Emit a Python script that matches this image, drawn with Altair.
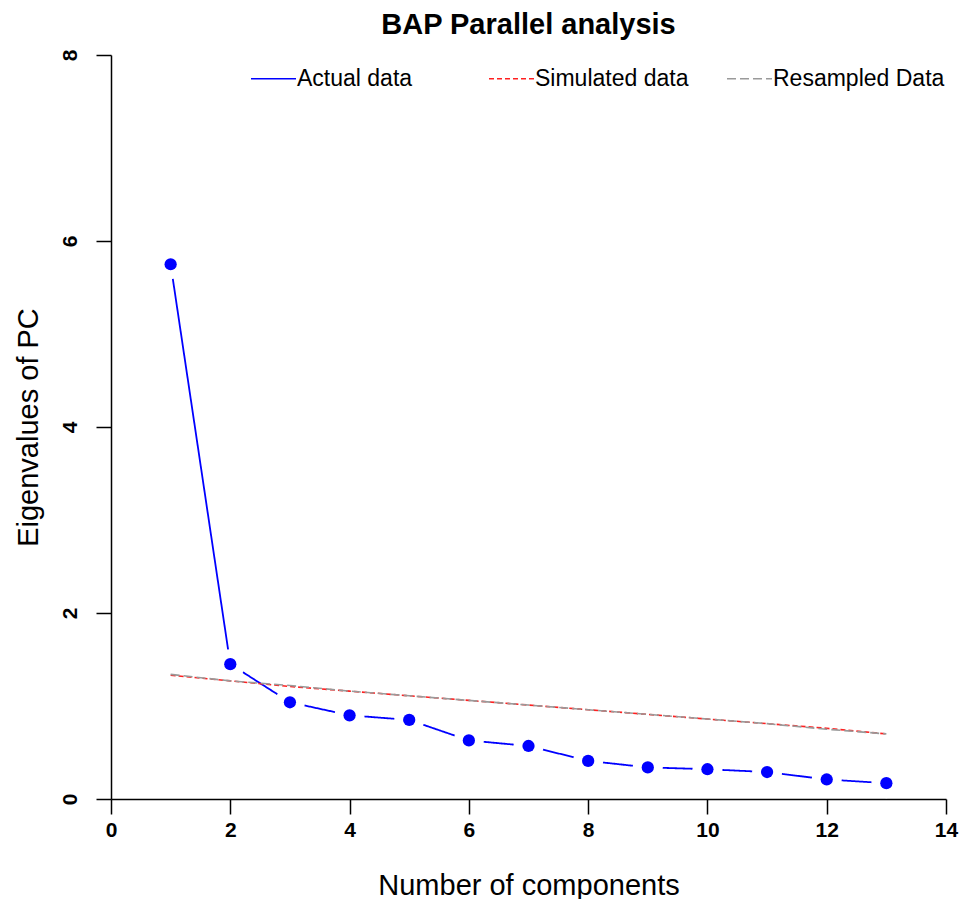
import altair as alt
import pandas as pd

components = [1, 2, 3, 4, 5, 6, 7, 8, 9, 10, 11, 12, 13]
actual = [5.75, 1.45, 1.04, 0.90, 0.85, 0.63, 0.57, 0.41, 0.34, 0.32, 0.29, 0.21, 0.17]
simulated = [1.33, 1.27, 1.21, 1.16, 1.11, 1.06, 1.01, 0.96, 0.91, 0.86, 0.81, 0.76, 0.70]
resampled = [1.34, 1.27, 1.22, 1.16, 1.11, 1.06, 1.01, 0.96, 0.91, 0.86, 0.81, 0.75, 0.70]
series_names = ["Actual data", "Simulated data", "Resampled Data"]
series_colors = ["#0000FF", "#FF2020", "#9A9A9A"]
series_dashes = [[1, 0], [5, 3], [9, 4]]

rows = []
for name, vals in zip(series_names, [actual, simulated, resampled]):
    for c, v in zip(components, vals):
        rows.append({"component": c, "value": v, "series": name})
df = pd.DataFrame(rows)

FONT = "Liberation Sans"

x_enc = alt.X("component:Q",
              scale=alt.Scale(domain=[0, 14], nice=False, zero=False),
              axis=alt.Axis(values=[0, 2, 4, 6, 8, 10, 12, 14], grid=False,
                            title="Number of components", titleFontSize=29,
                            titleFontWeight="normal", titleFont=FONT,
                            titleY=86, titleBaseline="middle",
                            labelFontSize=21, labelFontWeight="bold", labelFont=FONT,
                            labelPadding=5, tickSize=15, tickWidth=1.5, domainWidth=1.5,
                            domainColor="black", tickColor="black", labelColor="black",
                            titleColor="black", labelFlush=False))
y_enc = alt.Y("value:Q",
              scale=alt.Scale(domain=[0, 8], nice=False),
              axis=alt.Axis(values=[0, 2, 4, 6, 8], grid=False,
                            title="Eigenvalues of PC", titleFontSize=29,
                            titleFontWeight="normal", titleFont=FONT,
                            titleX=-83, titleBaseline="middle",
                            labelAngle=270, labelAlign="center", labelBaseline="bottom",
                            labelFontSize=21, labelFontWeight="bold", labelFont=FONT,
                            labelPadding=16, tickSize=15, tickWidth=1.5, domainWidth=1.5,
                            domainColor="black", tickColor="black", labelColor="black",
                            titleColor="black", labelFlush=False))

legend_kwargs = dict(title=None, orient="none", legendX=139, legendY=0,
                     direction="horizontal", columns=3,
                     symbolType="stroke", symbolSize=2025,
                     symbolStrokeWidth=1.5, labelFontSize=23, labelLimit=400,
                     labelFont=FONT, labelColor="black",
                     gridAlign="all", columnPadding=17, labelOffset=0)

color_enc = alt.Color("series:N",
                      scale=alt.Scale(domain=series_names, range=series_colors),
                      legend=alt.Legend(**legend_kwargs))
dash_enc = alt.StrokeDash("series:N",
                          scale=alt.Scale(domain=series_names, range=series_dashes),
                          legend=alt.Legend(**legend_kwargs))

base = alt.Chart(df)

actual_line = base.transform_filter(alt.datum.series == "Actual data").mark_line(
    strokeWidth=1.8).encode(x=x_enc, y=y_enc, color=color_enc, strokeDash=dash_enc)

halos = base.transform_filter(alt.datum.series == "Actual data").mark_circle(
    size=900, color="white", opacity=1).encode(x=x_enc, y=y_enc)

points = base.transform_filter(alt.datum.series == "Actual data").mark_circle(
    size=150, color="#0000FF", opacity=1).encode(x=x_enc, y=y_enc)

sim_lines = base.transform_filter(alt.datum.series != "Actual data").mark_line(
    strokeWidth=1.6).encode(x=x_enc, y=y_enc, color=color_enc, strokeDash=dash_enc)

chart = alt.layer(actual_line, halos, points, sim_lines).properties(
    width=835, height=744,
    title=alt.TitleParams("BAP Parallel analysis", fontSize=29, font=FONT,
                          fontWeight="bold", color="black", anchor="middle",
                          baseline="middle", offset=-5),
    autosize=alt.AutoSizeParams(type="none"),
    padding={"left": 103, "top": 47, "right": 13, "bottom": 100},
).configure_view(stroke=None)

chart.save("out.html", embed_options={"renderer": "svg", "actions": False})
